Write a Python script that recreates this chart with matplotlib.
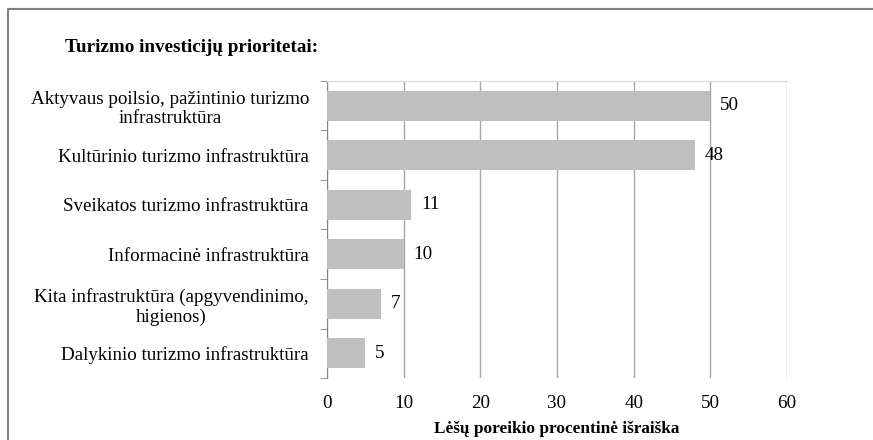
import matplotlib
matplotlib.use("Agg")
import matplotlib.pyplot as plt
from matplotlib.lines import Line2D

categories = [
    "Aktyvaus poilsio, pažintinio turizmo\ninfrastruktūra",
    "Kultūrinio turizmo infrastruktūra",
    "Sveikatos turizmo infrastruktūra",
    "Informacinė infrastruktūra",
    "Kita infrastruktūra (apgyvendinimo,\nhigienos)",
    "Dalykinio turizmo infrastruktūra",
]
values = [50, 48, 11, 10, 7, 5]
xticks = [0, 10, 20, 30, 40, 50, 60]
title = "Turizmo investicijų prioritetai:"
xlabel = "Lėšų poreikio procentinė išraiška"

plt.rcParams['font.family'] = ['Liberation Serif', 'DejaVu Serif']

W, H = 873, 440
FS = 13.7
fig = plt.figure(figsize=(W / 100, H / 100), dpi=100)
ax = fig.add_axes([327 / W, 1 - 378 / H, (787 - 327) / W, (378 - 81) / H])

ypos = list(range(len(categories)))
ax.barh(ypos, values, height=0.6, color="#BFBFBF", zorder=3)
for y, v in zip(ypos, values):
    ax.text(v + 1.3, y, str(v), va="center", ha="left", fontsize=FS, zorder=4)

ax.set_xlim(0, 60)
ax.set_ylim(len(categories) - 0.5, -0.5)
ax.set_xticks(xticks)
ax.set_xticklabels([str(t) for t in xticks], fontsize=FS)
ax.set_yticks(ypos)
ax.set_yticklabels(categories, fontsize=FS, ha="right", multialignment="center",
                   linespacing=1.2)
ax.tick_params(axis="y", length=0, pad=13)
ax.tick_params(axis="x", length=0, pad=12)
# minor ticks at category boundaries on the left axis
ax.set_yticks([i - 0.5 for i in range(len(categories) + 1)], minor=True)
ax.tick_params(axis="y", which="minor", length=5, color="#868686", direction="out")

ax.grid(axis="x", color="#A6A6A6", linewidth=1, zorder=0)
ax.spines["left"].set_color("#868686")
ax.spines["top"].set_color("#D9D9D9")
ax.spines["right"].set_visible(False)
ax.spines["bottom"].set_visible(False)

ax.set_xlabel(xlabel, fontsize=12.4, fontweight="bold", labelpad=7)

fig.text(65 / W, 1 - 47 / H, title, fontsize=13.8, fontweight="bold", va="center", ha="left")

# figure border (top and left)
bx = 7.5 / W
by = 1 - 9.5 / H
fig.add_artist(Line2D([bx, bx, 1], [0, by, by], transform=fig.transFigure,
                      color="#808080", linewidth=1.5))

fig.savefig("out.png", dpi=100)
